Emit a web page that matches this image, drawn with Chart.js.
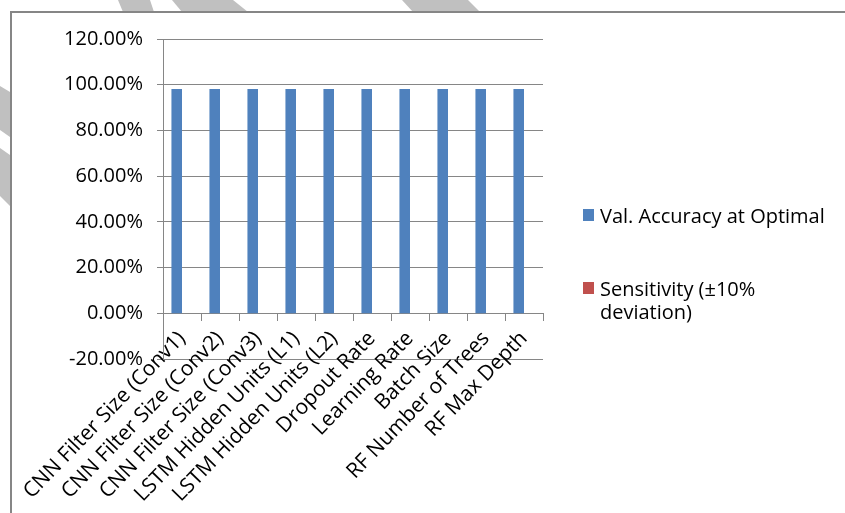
<!DOCTYPE html>
<html>
<head>
<meta charset="utf-8">
<script src="https://cdn.jsdelivr.net/npm/chart.js@4.4.1/dist/chart.umd.min.js"></script>
<style>
  body { margin: 0; background: #fff; font-family: "Open Sans", sans-serif; }
  #stripes { position: absolute; left: 0; top: 0; }
  #frame {
    position: absolute; left: 10px; top: 11px; width: 835px; height: 502px;
    border-left: 2px solid #868686; border-top: 2px solid #868686;
    background: #fff;
  }
  #chart { position: absolute; left: 0; top: 0; }
  #legend { position: absolute; left: 571px; top: 191px; }
  .item { display: flex; align-items: flex-start; font-size: 20px; line-height: 23px; color: #000; }
  .item + .item { margin-top: 50px; }
  .box { width: 11px; height: 12px; margin-top: 5px; margin-right: 6px; flex: none; }
  .label { width: 240px; }
</style>
</head>
<body>
<svg id="stripes" width="845" height="513">
  <g fill="#c0c0c0">
    <polygon points="118,0 150,0 154,12 123,12"/>
    <polygon points="172,0 233,0 248,12 182,12"/>
    <polygon points="402,0 468,0 480,12 413,12"/>
    <polygon points="0,86 10,92 10,137 0,130"/>
    <polygon points="0,148 10,155 10,206 0,196"/>
  </g>
</svg>
<div id="frame">
  <canvas id="chart" width="833" height="500"></canvas>
  <div id="legend"></div>
</div>
<script>
const categories = [
  "CNN Filter Size (Conv1)",
  "CNN Filter Size (Conv2)",
  "CNN Filter Size (Conv3)",
  "LSTM Hidden Units (L1)",
  "LSTM Hidden Units (L2)",
  "Dropout Rate",
  "Learning Rate",
  "Batch Size",
  "RF Number of Trees",
  "RF Max Depth"
];
const accuracy = [0.981, 0.981, 0.981, 0.981, 0.981, 0.981, 0.981, 0.981, 0.981, 0.981];
const sensitivity = [0, 0, 0, 0, 0, 0, 0, 0, 0, 0];
const seriesNames = ["Val. Accuracy at Optimal", "Sensitivity (\u00b110% deviation)"];
const seriesColors = ["#4f81bd", "#c0504d"];

const yMin = -0.2, yMax = 1.2, yStep = 0.2;
const gridColor = "#868686";

const chart = new Chart(document.getElementById("chart"), {
  type: "bar",
  data: {
    labels: categories,
    datasets: [
      { label: seriesNames[0], data: accuracy, backgroundColor: seriesColors[0] },
      { label: seriesNames[1], data: sensitivity, backgroundColor: seriesColors[1] }
    ]
  },
  options: {
    responsive: false,
    animation: false,
    categoryPercentage: 0.556,
    barPercentage: 1.0,
    layout: { padding: { left: 0, top: 26, right: 302, bottom: 154 } },
    plugins: { legend: { display: false }, tooltip: { enabled: false } },
    scales: {
      x: {
        position: { y: 0 },
        grid: { drawOnChartArea: false, drawTicks: true, tickLength: 7, color: gridColor },
        border: { display: true, color: gridColor },
        ticks: {
          autoSkip: false, maxRotation: 46, minRotation: 46, padding: 6,
          color: "#000", font: { family: "Open Sans", size: 21 }
        }
      },
      y: {
        min: yMin, max: yMax,
        grid: { color: gridColor, tickLength: 6 },
        border: { display: true, color: gridColor },
        afterFit(scale) { scale.width = 151; },
        ticks: {
          stepSize: yStep, padding: 14, color: "#000",
          font: { family: "Open Sans", size: 20 },
          callback: v => Math.round(v * 100).toFixed(2) + "%"
        }
      }
    }
  }
});

// legend with wrapping text, like the original
const legend = document.getElementById("legend");
chart.data.datasets.forEach(ds => {
  legend.innerHTML += `
    <div class="item">
      <span class="box" style="background:${ds.backgroundColor}"></span>
      <span class="label">${ds.label}</span>
    </div>`;
});
</script>
</body>
</html>
